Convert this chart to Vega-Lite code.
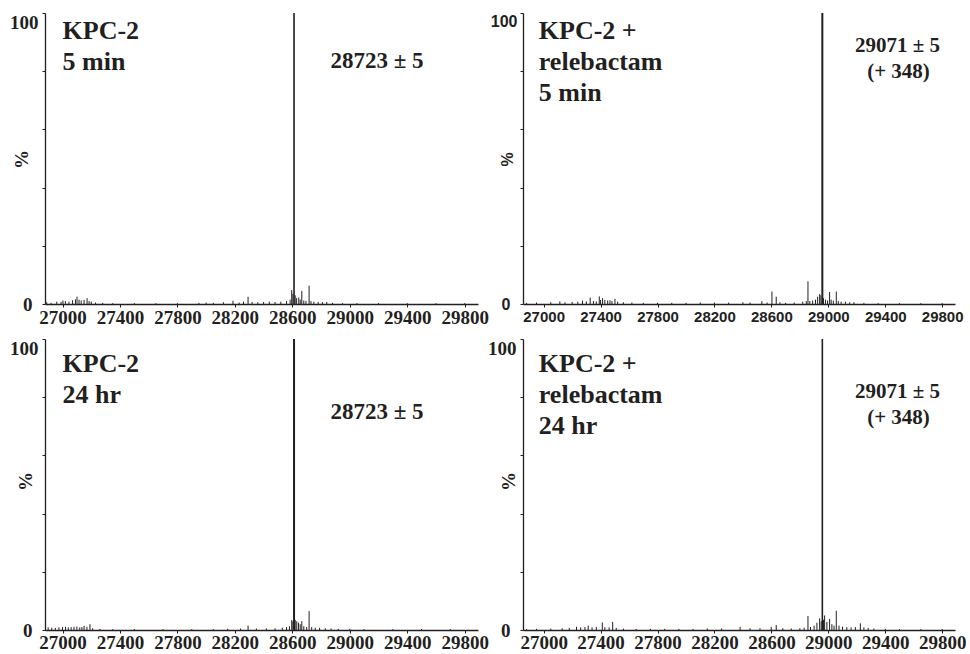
{
  "$schema": "https://vega.github.io/schema/vega-lite/v6.json",
  "padding": {"left": 9, "top": 12, "right": 0, "bottom": 0},
  "autosize": {"type": "pad"},
  "bounds": "flush",
  "columns": 2,
  "spacing": {"row": 35, "column": 45},
  "config": {
    "view": {"stroke": null},
    "axis": {
      "grid": false,
      "labelFont": "Liberation Serif",
      "labelFontWeight": "bold",
      "labelFontSize": 19,
      "labelColor": "#231f20",
      "titleFont": "Liberation Serif",
      "titleFontWeight": "bold",
      "titleFontSize": 19,
      "titleColor": "#231f20",
      "domainColor": "#231f20",
      "domainWidth": 1.3,
      "tickColor": "#231f20",
      "tickSize": 3,
      "labelOverlap": false,
      "labelFlush": false,
      "labelBound": false
    },
    "text": {"font": "Liberation Serif", "fontWeight": "bold", "color": "#231f20"}
  },
  "datasets": {
    "spectra": [
      {"panel": "tl", "mass": 26890, "pct": 0.6}, {"panel": "tl", "mass": 26920, "pct": 0.4}, {"panel": "tl", "mass": 26960, "pct": 0.8}, {"panel": "tl", "mass": 26990, "pct": 0.7},
      {"panel": "tl", "mass": 27003, "pct": 1.2}, {"panel": "tl", "mass": 27020, "pct": 1.0}, {"panel": "tl", "mass": 27045, "pct": 0.8}, {"panel": "tl", "mass": 27070, "pct": 1.3},
      {"panel": "tl", "mass": 27090, "pct": 1.6}, {"panel": "tl", "mass": 27101, "pct": 2.5}, {"panel": "tl", "mass": 27115, "pct": 1.5}, {"panel": "tl", "mass": 27130, "pct": 1.2},
      {"panel": "tl", "mass": 27150, "pct": 1.4}, {"panel": "tl", "mass": 27171, "pct": 2.0}, {"panel": "tl", "mass": 27185, "pct": 1.0}, {"panel": "tl", "mass": 27200, "pct": 0.8},
      {"panel": "tl", "mass": 27230, "pct": 0.5}, {"panel": "tl", "mass": 27280, "pct": 0.4}, {"panel": "tl", "mass": 27350, "pct": 0.3}, {"panel": "tl", "mass": 27500, "pct": 0.3},
      {"panel": "tl", "mass": 27650, "pct": 0.3}, {"panel": "tl", "mass": 27800, "pct": 0.3}, {"panel": "tl", "mass": 27950, "pct": 0.4}, {"panel": "tl", "mass": 28000, "pct": 0.5},
      {"panel": "tl", "mass": 28050, "pct": 0.4}, {"panel": "tl", "mass": 28120, "pct": 0.6}, {"panel": "tl", "mass": 28187, "pct": 1.1}, {"panel": "tl", "mass": 28230, "pct": 0.5},
      {"panel": "tl", "mass": 28260, "pct": 0.8}, {"panel": "tl", "mass": 28292, "pct": 2.5}, {"panel": "tl", "mass": 28320, "pct": 0.7}, {"panel": "tl", "mass": 28360, "pct": 0.6},
      {"panel": "tl", "mass": 28400, "pct": 0.7}, {"panel": "tl", "mass": 28440, "pct": 0.8}, {"panel": "tl", "mass": 28480, "pct": 0.7}, {"panel": "tl", "mass": 28520, "pct": 0.8},
      {"panel": "tl", "mass": 28560, "pct": 1.0}, {"panel": "tl", "mass": 28585, "pct": 1.5}, {"panel": "tl", "mass": 28596, "pct": 4.8}, {"panel": "tl", "mass": 28604, "pct": 3.5},
      {"panel": "tl", "mass": 28612, "pct": 100}, {"panel": "tl", "mass": 28620, "pct": 3.0}, {"panel": "tl", "mass": 28630, "pct": 2.0}, {"panel": "tl", "mass": 28645, "pct": 2.2},
      {"panel": "tl", "mass": 28655, "pct": 1.5}, {"panel": "tl", "mass": 28666, "pct": 4.5}, {"panel": "tl", "mass": 28680, "pct": 1.2}, {"panel": "tl", "mass": 28695, "pct": 1.0},
      {"panel": "tl", "mass": 28717, "pct": 6.3}, {"panel": "tl", "mass": 28730, "pct": 1.0}, {"panel": "tl", "mass": 28750, "pct": 0.8}, {"panel": "tl", "mass": 28780, "pct": 0.7},
      {"panel": "tl", "mass": 28810, "pct": 0.6}, {"panel": "tl", "mass": 28840, "pct": 0.7}, {"panel": "tl", "mass": 28880, "pct": 0.4}, {"panel": "tl", "mass": 28950, "pct": 0.3},
      {"panel": "tl", "mass": 29050, "pct": 0.3}, {"panel": "tl", "mass": 29200, "pct": 0.3}, {"panel": "tl", "mass": 29400, "pct": 0.3}, {"panel": "tl", "mass": 29600, "pct": 0.3},
      {"panel": "tl", "mass": 29800, "pct": 0.3},

      {"panel": "tr", "mass": 26880, "pct": 0.4}, {"panel": "tr", "mass": 26950, "pct": 0.5}, {"panel": "tr", "mass": 27050, "pct": 0.6}, {"panel": "tr", "mass": 27114, "pct": 0.9},
      {"panel": "tr", "mass": 27150, "pct": 0.6}, {"panel": "tr", "mass": 27200, "pct": 0.7}, {"panel": "tr", "mass": 27240, "pct": 0.8}, {"panel": "tr", "mass": 27273, "pct": 1.2},
      {"panel": "tr", "mass": 27300, "pct": 0.9}, {"panel": "tr", "mass": 27327, "pct": 2.2}, {"panel": "tr", "mass": 27350, "pct": 1.0}, {"panel": "tr", "mass": 27370, "pct": 0.9},
      {"panel": "tr", "mass": 27391, "pct": 2.6}, {"panel": "tr", "mass": 27400, "pct": 1.4}, {"panel": "tr", "mass": 27414, "pct": 2.0}, {"panel": "tr", "mass": 27430, "pct": 1.4},
      {"panel": "tr", "mass": 27450, "pct": 1.2}, {"panel": "tr", "mass": 27466, "pct": 1.3}, {"panel": "tr", "mass": 27480, "pct": 1.0}, {"panel": "tr", "mass": 27501, "pct": 1.8},
      {"panel": "tr", "mass": 27520, "pct": 0.8}, {"panel": "tr", "mass": 27560, "pct": 0.6}, {"panel": "tr", "mass": 27620, "pct": 0.5}, {"panel": "tr", "mass": 27700, "pct": 0.4},
      {"panel": "tr", "mass": 27800, "pct": 0.4}, {"panel": "tr", "mass": 27900, "pct": 0.4}, {"panel": "tr", "mass": 28000, "pct": 0.4}, {"panel": "tr", "mass": 28100, "pct": 0.5},
      {"panel": "tr", "mass": 28200, "pct": 0.5}, {"panel": "tr", "mass": 28300, "pct": 0.5}, {"panel": "tr", "mass": 28400, "pct": 0.6}, {"panel": "tr", "mass": 28450, "pct": 0.5},
      {"panel": "tr", "mass": 28533, "pct": 1.0}, {"panel": "tr", "mass": 28570, "pct": 0.5}, {"panel": "tr", "mass": 28604, "pct": 4.3}, {"panel": "tr", "mass": 28634, "pct": 2.5},
      {"panel": "tr", "mass": 28660, "pct": 0.6}, {"panel": "tr", "mass": 28700, "pct": 0.4}, {"panel": "tr", "mass": 28760, "pct": 0.5}, {"panel": "tr", "mass": 28820, "pct": 0.8},
      {"panel": "tr", "mass": 28845, "pct": 1.0}, {"panel": "tr", "mass": 28857, "pct": 7.8}, {"panel": "tr", "mass": 28870, "pct": 1.0}, {"panel": "tr", "mass": 28890, "pct": 1.2},
      {"panel": "tr", "mass": 28910, "pct": 1.5}, {"panel": "tr", "mass": 28925, "pct": 2.5}, {"panel": "tr", "mass": 28939, "pct": 3.4}, {"panel": "tr", "mass": 28948, "pct": 3.0},
      {"panel": "tr", "mass": 28958, "pct": 100}, {"panel": "tr", "mass": 28966, "pct": 2.0}, {"panel": "tr", "mass": 28980, "pct": 1.5}, {"panel": "tr", "mass": 28995, "pct": 1.2},
      {"panel": "tr", "mass": 29009, "pct": 4.1}, {"panel": "tr", "mass": 29020, "pct": 1.5}, {"panel": "tr", "mass": 29035, "pct": 1.2}, {"panel": "tr", "mass": 29056, "pct": 4.3},
      {"panel": "tr", "mass": 29070, "pct": 1.0}, {"panel": "tr", "mass": 29090, "pct": 0.8}, {"panel": "tr", "mass": 29120, "pct": 0.8}, {"panel": "tr", "mass": 29150, "pct": 0.6},
      {"panel": "tr", "mass": 29180, "pct": 0.6}, {"panel": "tr", "mass": 29250, "pct": 0.4}, {"panel": "tr", "mass": 29350, "pct": 0.3}, {"panel": "tr", "mass": 29500, "pct": 0.3},
      {"panel": "tr", "mass": 29650, "pct": 0.3}, {"panel": "tr", "mass": 29800, "pct": 0.3},

      {"panel": "bl", "mass": 26900, "pct": 0.9}, {"panel": "bl", "mass": 26925, "pct": 0.8}, {"panel": "bl", "mass": 26950, "pct": 0.7}, {"panel": "bl", "mass": 26975, "pct": 0.9},
      {"panel": "bl", "mass": 27000, "pct": 1.0}, {"panel": "bl", "mass": 27021, "pct": 1.1}, {"panel": "bl", "mass": 27040, "pct": 0.9}, {"panel": "bl", "mass": 27060, "pct": 1.0},
      {"panel": "bl", "mass": 27080, "pct": 1.1}, {"panel": "bl", "mass": 27100, "pct": 1.2}, {"panel": "bl", "mass": 27120, "pct": 0.9}, {"panel": "bl", "mass": 27135, "pct": 1.0},
      {"panel": "bl", "mass": 27150, "pct": 1.4}, {"panel": "bl", "mass": 27170, "pct": 1.1}, {"panel": "bl", "mass": 27191, "pct": 2.0}, {"panel": "bl", "mass": 27210, "pct": 0.6},
      {"panel": "bl", "mass": 27260, "pct": 0.4}, {"panel": "bl", "mass": 27350, "pct": 0.3}, {"panel": "bl", "mass": 27500, "pct": 0.3}, {"panel": "bl", "mass": 27700, "pct": 0.3},
      {"panel": "bl", "mass": 27900, "pct": 0.3}, {"panel": "bl", "mass": 28050, "pct": 0.3}, {"panel": "bl", "mass": 28150, "pct": 0.4}, {"panel": "bl", "mass": 28240, "pct": 0.5},
      {"panel": "bl", "mass": 28292, "pct": 1.5}, {"panel": "bl", "mass": 28350, "pct": 0.5}, {"panel": "bl", "mass": 28420, "pct": 0.5}, {"panel": "bl", "mass": 28480, "pct": 0.6},
      {"panel": "bl", "mass": 28530, "pct": 0.8}, {"panel": "bl", "mass": 28560, "pct": 1.0}, {"panel": "bl", "mass": 28580, "pct": 1.3}, {"panel": "bl", "mass": 28596, "pct": 3.4},
      {"panel": "bl", "mass": 28604, "pct": 3.0}, {"panel": "bl", "mass": 28612, "pct": 100}, {"panel": "bl", "mass": 28620, "pct": 3.5}, {"panel": "bl", "mass": 28631, "pct": 3.0},
      {"panel": "bl", "mass": 28643, "pct": 2.5}, {"panel": "bl", "mass": 28655, "pct": 2.0}, {"panel": "bl", "mass": 28666, "pct": 3.0}, {"panel": "bl", "mass": 28680, "pct": 1.3},
      {"panel": "bl", "mass": 28700, "pct": 1.0}, {"panel": "bl", "mass": 28717, "pct": 6.5}, {"panel": "bl", "mass": 28735, "pct": 1.0}, {"panel": "bl", "mass": 28760, "pct": 0.8},
      {"panel": "bl", "mass": 28790, "pct": 0.7}, {"panel": "bl", "mass": 28830, "pct": 0.6}, {"panel": "bl", "mass": 28870, "pct": 0.5}, {"panel": "bl", "mass": 28920, "pct": 0.4},
      {"panel": "bl", "mass": 29000, "pct": 0.4}, {"panel": "bl", "mass": 29100, "pct": 0.3}, {"panel": "bl", "mass": 29300, "pct": 0.3}, {"panel": "bl", "mass": 29500, "pct": 0.3},
      {"panel": "bl", "mass": 29700, "pct": 0.3},

      {"panel": "br", "mass": 26880, "pct": 0.3}, {"panel": "br", "mass": 26950, "pct": 0.4}, {"panel": "br", "mass": 27050, "pct": 0.5}, {"panel": "br", "mass": 27130, "pct": 0.6},
      {"panel": "br", "mass": 27180, "pct": 0.7}, {"panel": "br", "mass": 27231, "pct": 1.1}, {"panel": "br", "mass": 27260, "pct": 0.9}, {"panel": "br", "mass": 27290, "pct": 1.0},
      {"panel": "br", "mass": 27313, "pct": 1.5}, {"panel": "br", "mass": 27340, "pct": 0.9}, {"panel": "br", "mass": 27370, "pct": 1.0}, {"panel": "br", "mass": 27412, "pct": 2.6},
      {"panel": "br", "mass": 27430, "pct": 1.0}, {"panel": "br", "mass": 27460, "pct": 0.9}, {"panel": "br", "mass": 27485, "pct": 2.8}, {"panel": "br", "mass": 27510, "pct": 0.7},
      {"panel": "br", "mass": 27560, "pct": 0.5}, {"panel": "br", "mass": 27650, "pct": 0.4}, {"panel": "br", "mass": 27750, "pct": 0.4}, {"panel": "br", "mass": 27850, "pct": 0.4},
      {"panel": "br", "mass": 27950, "pct": 0.4}, {"panel": "br", "mass": 28050, "pct": 0.4}, {"panel": "br", "mass": 28150, "pct": 0.5}, {"panel": "br", "mass": 28250, "pct": 0.5},
      {"panel": "br", "mass": 28380, "pct": 1.1}, {"panel": "br", "mass": 28450, "pct": 0.6}, {"panel": "br", "mass": 28520, "pct": 0.6}, {"panel": "br", "mass": 28599, "pct": 1.1},
      {"panel": "br", "mass": 28634, "pct": 1.7}, {"panel": "br", "mass": 28680, "pct": 0.6}, {"panel": "br", "mass": 28740, "pct": 0.5}, {"panel": "br", "mass": 28800, "pct": 0.6},
      {"panel": "br", "mass": 28830, "pct": 0.8}, {"panel": "br", "mass": 28857, "pct": 4.8}, {"panel": "br", "mass": 28875, "pct": 1.0}, {"panel": "br", "mass": 28900, "pct": 1.5},
      {"panel": "br", "mass": 28920, "pct": 2.5}, {"panel": "br", "mass": 28939, "pct": 4.0}, {"panel": "br", "mass": 28950, "pct": 3.0}, {"panel": "br", "mass": 28958, "pct": 100},
      {"panel": "br", "mass": 28966, "pct": 3.5}, {"panel": "br", "mass": 28974, "pct": 5.0}, {"panel": "br", "mass": 28990, "pct": 2.8}, {"panel": "br", "mass": 29009, "pct": 3.8},
      {"panel": "br", "mass": 29025, "pct": 2.0}, {"panel": "br", "mass": 29040, "pct": 1.5}, {"panel": "br", "mass": 29056, "pct": 6.6}, {"panel": "br", "mass": 29075, "pct": 1.5},
      {"panel": "br", "mass": 29100, "pct": 1.2}, {"panel": "br", "mass": 29130, "pct": 1.0}, {"panel": "br", "mass": 29160, "pct": 0.9}, {"panel": "br", "mass": 29190, "pct": 1.0},
      {"panel": "br", "mass": 29225, "pct": 2.3}, {"panel": "br", "mass": 29250, "pct": 0.9}, {"panel": "br", "mass": 29280, "pct": 0.7}, {"panel": "br", "mass": 29320, "pct": 0.5},
      {"panel": "br", "mass": 29400, "pct": 0.4}, {"panel": "br", "mass": 29500, "pct": 0.3}, {"panel": "br", "mass": 29650, "pct": 0.3}, {"panel": "br", "mass": 29800, "pct": 0.3}
    ],
    "notes": [
      {"panel": "tl", "kind": "sample", "mass": 27000, "pct": 93.8, "text": "KPC-2"},
      {"panel": "tl", "kind": "sample", "mass": 27000, "pct": 83.2, "text": "5 min"},
      {"panel": "tl", "kind": "peak", "mass": 29190, "pct": 83.6, "text": "28723 ± 5"},
      {"panel": "tr", "kind": "sample", "mass": 26966, "pct": 93.8, "text": "KPC-2 +"},
      {"panel": "tr", "kind": "sample", "mass": 26966, "pct": 83.2, "text": "relebactam"},
      {"panel": "tr", "kind": "sample", "mass": 26966, "pct": 72.6, "text": "5 min"},
      {"panel": "tr", "kind": "peak", "mass": 29486, "pct": 88.7, "text": "29071 ± 5"},
      {"panel": "tr", "kind": "peak", "mass": 29493, "pct": 79.8, "text": "(+ 348)"},
      {"panel": "bl", "kind": "sample", "mass": 27000, "pct": 91.4, "text": "KPC-2"},
      {"panel": "bl", "kind": "sample", "mass": 27000, "pct": 80.8, "text": "24 hr"},
      {"panel": "bl", "kind": "peak", "mass": 29190, "pct": 75.0, "text": "28723 ± 5"},
      {"panel": "br", "kind": "sample", "mass": 26966, "pct": 91.4, "text": "KPC-2 +"},
      {"panel": "br", "kind": "sample", "mass": 26966, "pct": 80.8, "text": "relebactam"},
      {"panel": "br", "kind": "sample", "mass": 26966, "pct": 70.2, "text": "24 hr"},
      {"panel": "br", "kind": "peak", "mass": 29486, "pct": 81.8, "text": "29071 ± 5"},
      {"panel": "br", "kind": "peak", "mass": 29493, "pct": 72.9, "text": "(+ 348)"}
    ]
  },
  "concat": [
    {
      "width": 433, "height": 291,
      "layer": [
        {
          "data": {"name": "spectra"},
          "transform": [{"filter": "datum.panel == 'tl'"}],
          "mark": {"type": "rule", "color": "#231f20"},
          "encoding": {
            "x": {"field": "mass", "type": "quantitative", "scale": {"domain": [26878, 29893], "nice": false, "zero": false},
              "axis": {"title": null, "format": "d", "values": [27000, 27400, 27800, 28200, 28600, 29000, 29400, 29800], "tickSize": 3, "labelPadding": 1}},
            "y": {"field": "pct", "type": "quantitative", "scale": {"domain": [0, 100], "nice": false},
              "axis": {"title": "%", "titleX": -24, "titleY": 146, "titleAlign": "center", "titleBaseline": "middle", "format": "d",
                "values": [0,10,20,30,40,50,60,70,80,90,100],
                "labelExpr": "datum.value == 0 || datum.value == 100 ? datum.label : ''",
                "labelBaseline": {"condition": {"test": "datum.value == 100", "value": "top"}, "value": "middle"},
                "labelPadding": {"condition": {"test": "datum.value == 100", "value": 4}, "value": 10}}},
            "y2": {"datum": 0},
            "strokeWidth": {"condition": {"test": "datum.pct > 50", "value": 1.6}, "value": 1}
          }
        },
        {
          "data": {"name": "notes"},
          "transform": [{"filter": "datum.panel == 'tl' && datum.kind == 'sample'"}],
          "mark": {"type": "text", "align": "left", "baseline": "middle", "fontSize": 26},
          "encoding": {"x": {"field": "mass", "type": "quantitative"}, "y": {"field": "pct", "type": "quantitative"}, "text": {"field": "text"}}
        },
        {
          "data": {"name": "notes"},
          "transform": [{"filter": "datum.panel == 'tl' && datum.kind == 'peak'"}],
          "mark": {"type": "text", "align": "center", "baseline": "middle", "fontSize": 23},
          "encoding": {"x": {"field": "mass", "type": "quantitative"}, "y": {"field": "pct", "type": "quantitative"}, "text": {"field": "text"}}
        }
      ]
    },
    {
      "width": 432, "height": 291,
      "layer": [
        {
          "data": {"name": "spectra"},
          "transform": [{"filter": "datum.panel == 'tr'"}],
          "mark": {"type": "rule", "color": "#231f20"},
          "encoding": {
            "x": {"field": "mass", "type": "quantitative", "scale": {"domain": [26855, 29890], "nice": false, "zero": false},
              "axis": {"title": null, "format": "d", "values": [27000, 27400, 27800, 28200, 28600, 29000, 29400, 29800], "tickSize": 3, "labelPadding": 2,
                "labelFont": "Liberation Sans", "labelFontSize": 15}},
            "y": {"field": "pct", "type": "quantitative", "scale": {"domain": [0, 100], "nice": false},
              "axis": {"title": "%", "titleX": -16, "titleY": 146, "titleAlign": "center", "titleBaseline": "middle", "format": "d",
                "titleFont": "Liberation Sans", "titleFontSize": 16, "labelFont": "Liberation Sans", "labelFontSize": 16,
                "values": [0,10,20,30,40,50,60,70,80,90,100],
                "labelExpr": "datum.value == 0 || datum.value == 100 ? datum.label : ''",
                "labelBaseline": {"condition": {"test": "datum.value == 100", "value": "top"}, "value": "middle"},
                "labelPadding": {"condition": {"test": "datum.value == 100", "value": 3}, "value": 10}}},
            "y2": {"datum": 0},
            "strokeWidth": {"condition": {"test": "datum.pct > 50", "value": 2}, "value": 1}
          }
        },
        {
          "data": {"name": "notes"},
          "transform": [{"filter": "datum.panel == 'tr' && datum.kind == 'sample'"}],
          "mark": {"type": "text", "align": "left", "baseline": "middle", "fontSize": 26},
          "encoding": {"x": {"field": "mass", "type": "quantitative"}, "y": {"field": "pct", "type": "quantitative"}, "text": {"field": "text"}}
        },
        {
          "data": {"name": "notes"},
          "transform": [{"filter": "datum.panel == 'tr' && datum.kind == 'peak'"}],
          "mark": {"type": "text", "align": "center", "baseline": "middle", "fontSize": 21},
          "encoding": {"x": {"field": "mass", "type": "quantitative"}, "y": {"field": "pct", "type": "quantitative"}, "text": {"field": "text"}}
        }
      ]
    },
    {
      "width": 433, "height": 291,
      "layer": [
        {
          "data": {"name": "spectra"},
          "transform": [{"filter": "datum.panel == 'bl'"}],
          "mark": {"type": "rule", "color": "#231f20"},
          "encoding": {
            "x": {"field": "mass", "type": "quantitative", "scale": {"domain": [26878, 29893], "nice": false, "zero": false},
              "axis": {"title": null, "format": "d", "values": [27000, 27400, 27800, 28200, 28600, 29000, 29400, 29800], "tickSize": 3, "labelPadding": 0}},
            "y": {"field": "pct", "type": "quantitative", "scale": {"domain": [0, 100], "nice": false},
              "axis": {"title": "%", "titleX": -20, "titleY": 142, "titleAlign": "center", "titleBaseline": "middle", "format": "d",
                "values": [0,10,20,30,40,50,60,70,80,90,100],
                "labelExpr": "datum.value == 0 || datum.value == 100 ? datum.label : ''",
                "labelBaseline": {"condition": {"test": "datum.value == 100", "value": "top"}, "value": "middle"},
                "labelPadding": {"condition": {"test": "datum.value == 100", "value": 4}, "value": 10}}},
            "y2": {"datum": 0},
            "strokeWidth": {"condition": {"test": "datum.pct > 50", "value": 2}, "value": 1}
          }
        },
        {
          "data": {"name": "notes"},
          "transform": [{"filter": "datum.panel == 'bl' && datum.kind == 'sample'"}],
          "mark": {"type": "text", "align": "left", "baseline": "middle", "fontSize": 26},
          "encoding": {"x": {"field": "mass", "type": "quantitative"}, "y": {"field": "pct", "type": "quantitative"}, "text": {"field": "text"}}
        },
        {
          "data": {"name": "notes"},
          "transform": [{"filter": "datum.panel == 'bl' && datum.kind == 'peak'"}],
          "mark": {"type": "text", "align": "center", "baseline": "middle", "fontSize": 23},
          "encoding": {"x": {"field": "mass", "type": "quantitative"}, "y": {"field": "pct", "type": "quantitative"}, "text": {"field": "text"}}
        }
      ]
    },
    {
      "width": 432, "height": 291,
      "layer": [
        {
          "data": {"name": "spectra"},
          "transform": [{"filter": "datum.panel == 'br'"}],
          "mark": {"type": "rule", "color": "#231f20"},
          "encoding": {
            "x": {"field": "mass", "type": "quantitative", "scale": {"domain": [26855, 29890], "nice": false, "zero": false},
              "axis": {"title": null, "format": "d", "values": [27000, 27400, 27800, 28200, 28600, 29000, 29400, 29800], "tickSize": 3, "labelPadding": 0}},
            "y": {"field": "pct", "type": "quantitative", "scale": {"domain": [0, 100], "nice": false},
              "axis": {"title": "%", "titleX": -15, "titleY": 142, "titleAlign": "center", "titleBaseline": "middle", "format": "d",
                "values": [0,10,20,30,40,50,60,70,80,90,100],
                "labelExpr": "datum.value == 0 || datum.value == 100 ? datum.label : ''",
                "labelBaseline": {"condition": {"test": "datum.value == 100", "value": "top"}, "value": "middle"},
                "labelPadding": {"condition": {"test": "datum.value == 100", "value": 4}, "value": 10}}},
            "y2": {"datum": 0},
            "strokeWidth": {"condition": {"test": "datum.pct > 50", "value": 1.6}, "value": 1}
          }
        },
        {
          "data": {"name": "notes"},
          "transform": [{"filter": "datum.panel == 'br' && datum.kind == 'sample'"}],
          "mark": {"type": "text", "align": "left", "baseline": "middle", "fontSize": 26},
          "encoding": {"x": {"field": "mass", "type": "quantitative"}, "y": {"field": "pct", "type": "quantitative"}, "text": {"field": "text"}}
        },
        {
          "data": {"name": "notes"},
          "transform": [{"filter": "datum.panel == 'br' && datum.kind == 'peak'"}],
          "mark": {"type": "text", "align": "center", "baseline": "middle", "fontSize": 21},
          "encoding": {"x": {"field": "mass", "type": "quantitative"}, "y": {"field": "pct", "type": "quantitative"}, "text": {"field": "text"}}
        }
      ]
    }
  ]
}
